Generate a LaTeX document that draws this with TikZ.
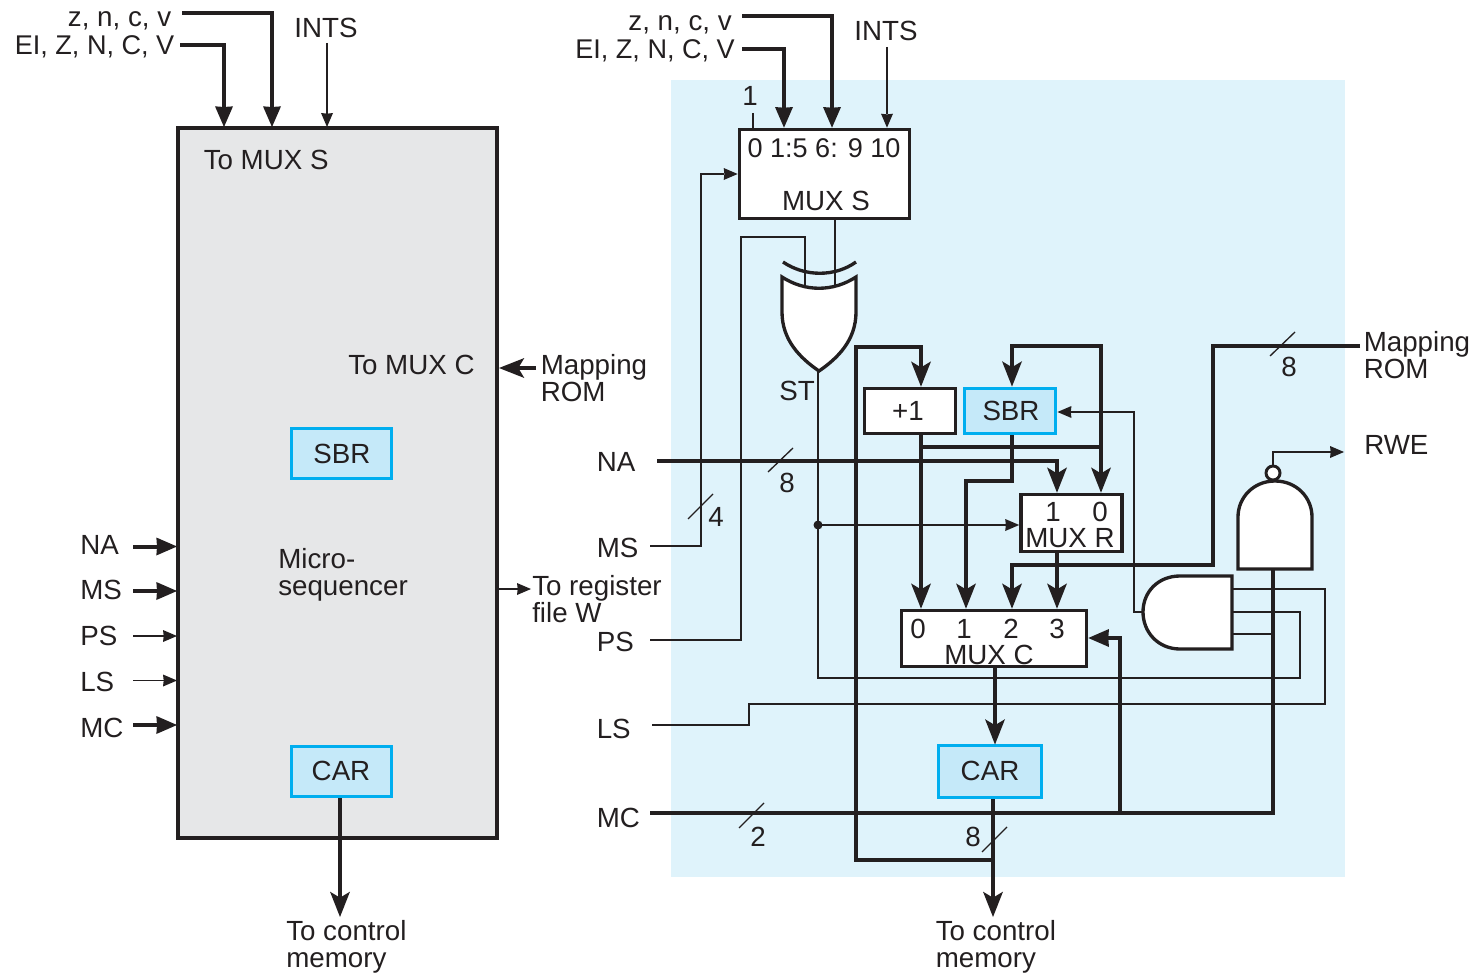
\documentclass[tikz,border=0pt]{standalone}
\usepackage{fontspec}
\setmainfont{Liberation Sans}
\usetikzlibrary{arrows.meta}
\definecolor{ink}{HTML}{231F20}
\definecolor{panel}{HTML}{DFF3FB}
\definecolor{grayface}{HTML}{E6E7E8}
\definecolor{regface}{HTML}{C5E9F9}
\definecolor{regedge}{HTML}{00AEEF}
\tikzset{
  thinw/.style={draw=ink,line width=1.1pt},
  thickw/.style={draw=ink,line width=3pt},
  midw/.style={draw=ink,line width=2.2pt},
  tipbig/.style={-{Stealth[length=19pt,width=15pt,inset=4.5pt,line width=0pt]}},
  tipmid/.style={-{Stealth[length=15.5pt,width=13.5pt,inset=0.5pt,line width=0pt]}},
  tipthin/.style={-{Stealth[length=10.5pt,width=9pt,inset=0.5pt,line width=0pt]}},
  boxw/.style={draw=ink,line width=2.7pt,fill=white,inner sep=0pt},
  regbox/.style={draw=regedge,line width=2.9pt,fill=regface,inner sep=0pt},
  gate/.style={draw=ink,line width=2.5pt,fill=white},
  lab/.style={inner sep=0pt,text=ink,yshift=-0.5pt,font=\fontsize{20.8}{20.25}\selectfont,text height=14.9pt,text depth=0pt},
  labtight/.style={lab,font=\fontsize{20.3}{20.25}\selectfont},
  multi/.style={inner sep=0pt,text=ink,font=\fontsize{20.8}{20.25}\selectfont,align=left,anchor=north west},
  slashw/.style={draw=ink,line width=1pt},
}
\begin{document}
\begin{tikzpicture}[x=0.75pt,y=-0.75pt]
\useasboundingbox (0,0) rectangle (1478,974);
\fill[panel] (671,80) rectangle (1345,877);

% ---------- left block
\node[draw=ink,line width=2.5pt,fill=grayface,minimum width=0.75*319pt,minimum height=0.75*710pt,inner sep=0pt] (mseq) at (337.5,483) {};
\node[regbox,minimum width=0.75*100pt,minimum height=0.75*50pt] (lsbr) at (341.5,453.5) {};
\node[regbox,minimum width=0.75*100pt,minimum height=0.75*50pt] (lcar) at (341.5,771.5) {};
\node[lab] (lsbrtxt) at (342,453) {SBR};
\node[lab] (lcartxt) at (341,770) {CAR};
\node[lab,anchor=west] (ltomuxs) at (203.5,159) {To MUX S};
\node[lab,anchor=west] (ltomuxc) at (348,364) {To MUX C};
\node[multi] (lmicro) at (278,548.5) {Micro-\\sequencer};
\node[multi] (lmaprom) at (540.5,354.5) {Mapping\\ROM};
\node[multi] (lreg) at (532,575.5) {To register\\file W};
\node[multi] (lctl) at (286,920) {To control\\memory};
\node[lab,anchor=east] (lz) at (171.5,16) {z, n, c, v};
\node[labtight,anchor=east] (lei) at (174.5,44) {EI, Z, N, C, V};
\node[lab] (lints) at (326,27) {INTS};
\node[lab,anchor=west] (lna) at (80,544) {NA};
\node[lab,anchor=west] (lms) at (80,589) {MS};
\node[lab,anchor=west] (lps) at (80,635) {PS};
\node[lab,anchor=west] (lls) at (80,681) {LS};
\node[lab,anchor=west] (lmc) at (80,727) {MC};

\coordinate (lzs) at (182,13);
\coordinate (lzt) at (272,127);
\coordinate (leis) at (180,45);
\coordinate (leit) at (224,127);
\coordinate (lis) at (327,43);
\coordinate (lit) at (327,127);
\draw[thickw,tipmid] (lzs) -| (lzt);
\draw[thickw,tipmid] (leis) -| (leit);
\draw[thinw,tipthin] (lis) -- (lit);
\coordinate (mapl) at (536,368);
\coordinate (mapt) at (499,368);
\draw[thickw,tipbig] (mapl) -- (mapt);
\coordinate (regs) at (499,589);
\coordinate (regt) at (531,589);
\draw[thinw,tipthin] (regs) -- (regt);
\foreach \n/\y/\w/\t in {a/546.5/thickw/tipmid,b/591/thickw/tipmid,c/636/thinw/tipthin,d/680.5/thinw/tipthin,e/725/thickw/tipmid}{
  \coordinate (ls\n) at (133,\y);
  \coordinate (lt\n) at (177,\y);
  \draw[\w,\t] (ls\n) -- (lt\n);
}
\coordinate (lout) at (340,917);
\draw[thickw,tipbig] (lout |- lcar.south) -- (lout);

% ---------- right block: named points
\coordinate (rzs) at (742,16);
\coordinate (rzt) at (832,0);
\coordinate (reis) at (742,49);
\coordinate (reit) at (784,0);
\coordinate (ris) at (887,47);
\coordinate (pin0) at (753,113);
\coordinate (stin1) at (805,285);
\coordinate (stin2) at (835,285);
\coordinate (stout) at (818,371);
\coordinate (stdot) at (818,525);
\coordinate (msS) at (650,546);
\coordinate (psS) at (650,640);
\coordinate (lsS) at (652,725);
\coordinate (mcS) at (650,813);
\coordinate (naS) at (657,461);
\coordinate (mapS) at (1360,346);
\coordinate (andout) at (1143,612);
\coordinate (and1) at (1233,589);
\coordinate (and2) at (1233,612);
\coordinate (and3) at (1233,634);
\coordinate (nandb) at (1273,569);
\coordinate (nando) at (1273,466);
\coordinate (rwe) at (1344,452);
\coordinate (mcj) at (1273,813);
\coordinate (mcb) at (1120,813);
\coordinate (outb) at (993,917);
\coordinate (loopj) at (993,860);
\coordinate (xa) at (921,0);
\coordinate (xb) at (966,0);
\coordinate (xc) at (1012,0);
\coordinate (xd) at (1057,0);
\coordinate (xe) at (1101,0);

% boxes
\node[boxw,minimum width=0.75*170pt,minimum height=0.75*89pt] (muxs) at (824.5,174) {};
\node[boxw,minimum width=0.75*91pt,minimum height=0.75*45pt] (plus) at (910,411) {};
\node[regbox,minimum width=0.75*91pt,minimum height=0.75*45pt] (rsbr) at (1010,411) {};
\node[boxw,minimum width=0.75*101pt,minimum height=0.75*57pt] (muxr) at (1071.5,523) {};
\node[boxw,minimum width=0.75*185pt,minimum height=0.75*56pt] (muxc) at (994,638.5) {};
\node[regbox,minimum width=0.75*103pt,minimum height=0.75*52pt] (rcar) at (990,771.5) {};

% gates
\draw[gate] (782,277) .. controls (805,292) and (833,292) .. (856,277) -- (856,312) .. controls (856,340) and (838,358) .. (819,371) .. controls (800,358) and (782,340) .. (782,312) -- cycle;
\draw[draw=ink,line width=2.5pt] (783,262) .. controls (805,277) and (835,277) .. (856,262);
\draw[gate] (1232,576) -- (1180,576) .. controls (1158,576) and (1143,592) .. (1143,612) .. controls (1143,632) and (1158,649) .. (1180,649) -- (1232,649) -- cycle;
\draw[gate] (1238,569) -- (1238,517) .. controls (1238,497) and (1254,481) .. (1275,481) .. controls (1296,481) and (1312,497) .. (1312,517) -- (1312,569) -- cycle;
\draw[gate,line width=2.2pt] (1273,473) circle (7);

% thin wires
\draw[thinw,tipthin] (msS) -- (701,546) -- (701,174) -- (muxs.west |- 0,174);
\draw[thinw] (psS) -- (741,640) -- (741,237) -- (805,237) -- (stin1);
\draw[thinw] (stin2 |- muxs.south) -- (stin2);
\draw[thinw] (stout) -- (818,678) -- (1300,678) -- (1300,612) -- (and2);
\draw[thinw,tipthin] (stdot) -- (stdot -| muxr.west);
\draw[thinw] (lsS) -- (749,725) -- (749,704) -- (1325,704) -- (1325,589) -- (and1);
\draw[thinw,tipthin] (andout) -- (1134,612) -- (1134,412) -- (rsbr.east |- 0,412);
\draw[thinw,tipthin] (nando) -- (1273,452) -- (rwe);
\draw[thinw] (pin0) -- (pin0 |- muxs.north);
\draw[thinw,tipthin] (ris) -- (ris |- muxs.north);
\fill[ink] (stdot) circle (4.5);

% thick wires
\draw[thickw,tipmid] (rzs) -| (rzt |- muxs.north);
\draw[thickw,tipmid] (reis) -| (reit |- muxs.north);
\draw[thickw,tipbig] (loopj) -- (856,860) -- (856,347) -- (921,347) -- (xa |- plus.north);
\draw[thickw,tipbig] (xa |- plus.south) -- (xa |- muxc.north);
\draw[thickw] (921,447) -- (1101,447);
\draw[thickw,tipbig] (1101,447) -- (xe |- muxr.north);
\draw[thickw,tipbig] (1101,447) -- (1101,346) -- (1012,346) -- (xc |- rsbr.north);
\draw[thickw,tipbig] (xc |- rsbr.south) -- (1012,481) -- (966,481) -- (xb |- muxc.north);
\draw[thickw,tipbig] (naS) -- (1057,461) -- (xd |- muxr.north);
\draw[thickw,tipbig] (xd |- muxr.south) -- (xd |- muxc.north);
\draw[thickw,tipbig] (mapS) -- (1213,346) -- (1213,565) -- (1012,565) -- (xc |- muxc.north);
\draw[thickw,tipbig] (995,667.5) -- (995,744.5);
\draw[thickw,tipbig] (outb |- rcar.south) -- (outb);
\draw[thickw] (mcS) -- (mcj) -- (nandb);
\draw[thickw,tipmid] (mcb) -- (1120,638) -- (muxc.east |- 0,638);
\draw[midw] (nandb |- and3) -- (and3);

% box texts
\node[labtight] (t1) at (824,147) {0 1:5 6: 9 10};
\node[lab] (t2) at (826,200) {MUX S};
\node[lab] (t3) at (908,410) {+1};
\node[lab] (t4) at (1011,410) {SBR};
\node[lab] (t5) at (1053,511) {1};
\node[lab] (t6) at (1100,511) {0};
\node[lab] (t7) at (1070,537) {MUX R};
\node[lab] (t8) at (918,628) {0};
\node[lab] (t9) at (964,628) {1};
\node[lab] (t10) at (1011,628) {2};
\node[lab] (t11) at (1057,628) {3};
\node[lab] (t12) at (989,654) {MUX C};
\node[lab] (t13) at (990,770) {CAR};

% bus slashes and widths
\draw[slashw] (688,519) -- (713,494);
\draw[slashw] (768,472) -- (793,448);
\draw[slashw] (1270,356) -- (1295,332);
\draw[slashw] (739,828) -- (764,803);
\draw[slashw] (982,852) -- (1007,827);
\node[lab] (w1) at (716,516) {4};
\node[lab] (w2) at (787,482) {8};
\node[lab] (w3) at (1289,366) {8};
\node[lab] (w4) at (758,836) {2};
\node[lab] (w5) at (973,836) {8};
\node[lab] (w6) at (750,95) {1};

% outer labels
\node[lab,anchor=east] (rz) at (732,20) {z, n, c, v};
\node[labtight,anchor=east] (rei) at (735,48) {EI, Z, N, C, V};
\node[lab] (rints) at (886,30) {INTS};
\node[lab,anchor=west] (rna) at (596.5,461) {NA};
\node[lab,anchor=west] (rms) at (596.5,547) {MS};
\node[lab,anchor=west] (rps) at (596.5,641) {PS};
\node[lab,anchor=west] (rls) at (596.5,728) {LS};
\node[lab,anchor=west] (rmc) at (596.5,817) {MC};
\node[lab,anchor=west] (rst) at (779,390) {ST};
\node[lab,anchor=west] (rrwe) at (1364,444) {RWE};
\node[multi] (rmap) at (1363.5,331.5) {Mapping\\ROM};
\node[multi] (rctl) at (935.5,920) {To control\\memory};
\end{tikzpicture}
\end{document}
